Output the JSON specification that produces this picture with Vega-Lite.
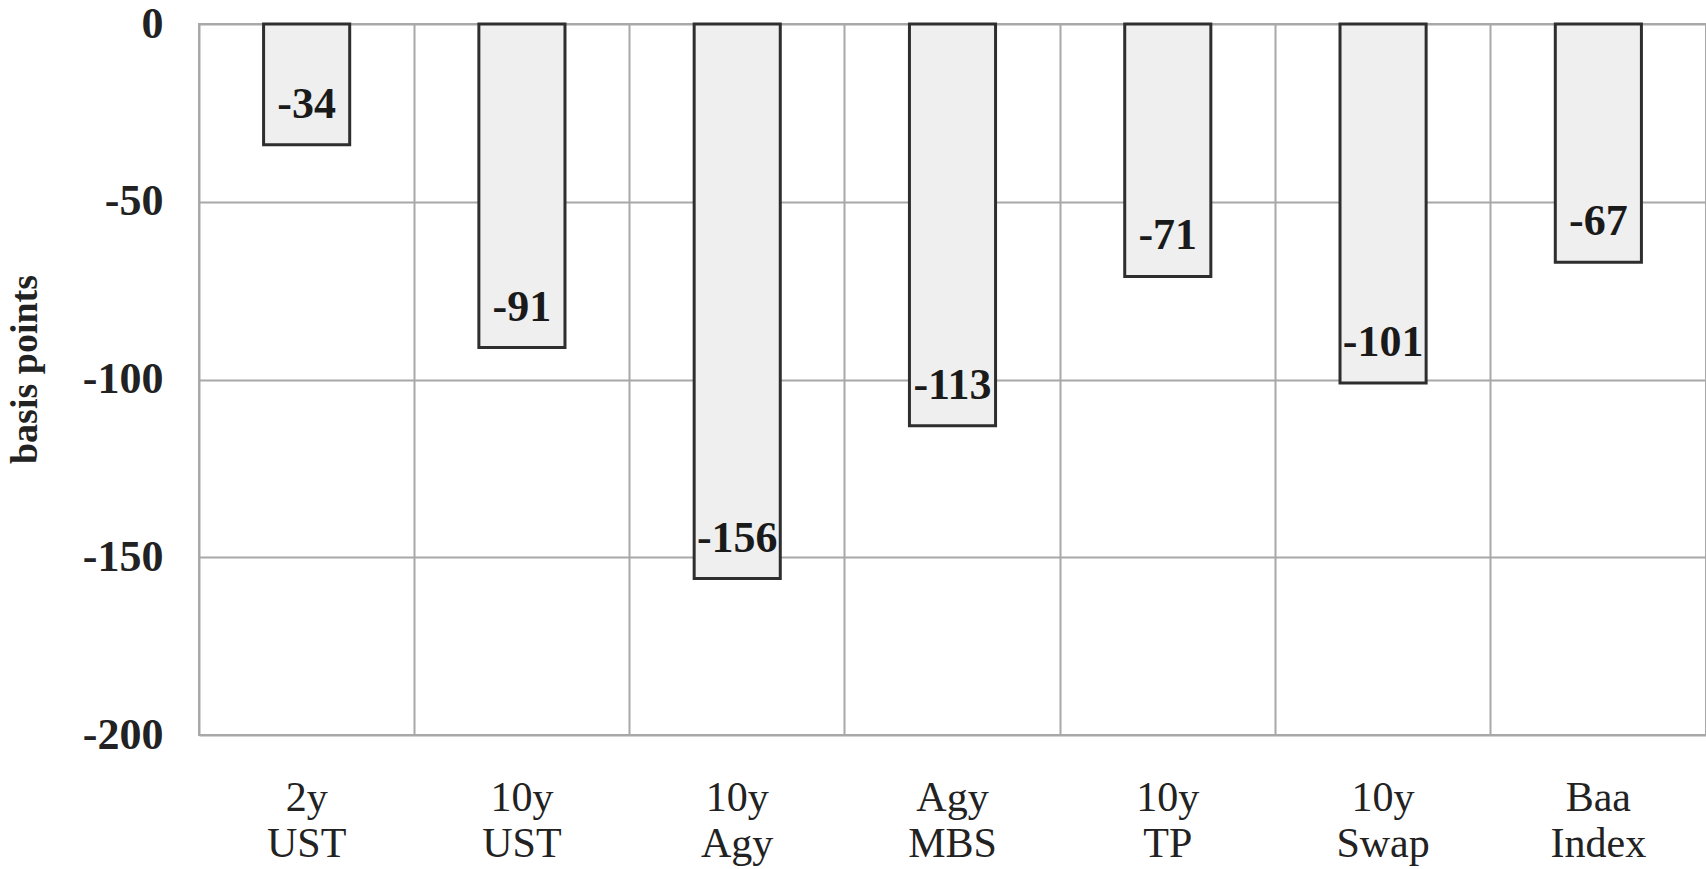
{
  "$schema": "https://vega.github.io/schema/vega-lite/v6.json",
  "autosize": {"type": "none"},
  "width": 1507,
  "height": 711,
  "padding": {"left": 199, "top": 24, "right": 0, "bottom": 134},
  "background": "white",
  "config": {
    "view": {"stroke": "#a8a8a8", "strokeWidth": 2},
    "font": "Liberation Serif"
  },
  "data": {
    "values": [
      {"category": "2y\nUST", "value": -34},
      {"category": "10y\nUST", "value": -91},
      {"category": "10y\nAgy", "value": -156},
      {"category": "Agy\nMBS", "value": -113},
      {"category": "10y\nTP", "value": -71},
      {"category": "10y\nSwap", "value": -101},
      {"category": "Baa\nIndex", "value": -67}
    ]
  },
  "encoding": {
    "x": {
      "field": "category",
      "type": "nominal",
      "sort": null,
      "scale": {"paddingInner": 0, "paddingOuter": 0},
      "axis": {
        "title": null,
        "labelAngle": 0,
        "labelExpr": "split(datum.label, '\\n')",
        "labelFont": "Liberation Serif",
        "labelFontSize": 42,
        "labelLineHeight": 46,
        "labelColor": "#222",
        "labelBaseline": "top",
        "labelPadding": 42,
        "ticks": false,
        "domain": false,
        "grid": true,
        "bandPosition": 0,
        "gridColor": "#a8a8a8",
        "gridWidth": 2,
        "gridOpacity": 1
      }
    },
    "y": {
      "field": "value",
      "type": "quantitative",
      "scale": {"domain": [-200, 0], "nice": false},
      "axis": {
        "title": "basis points",
        "titleFont": "Liberation Serif",
        "titleFontSize": 38,
        "titleFontWeight": "bold",
        "titleColor": "#222",
        "titleX": -174,
        "titleY": 345,
        "titleAngle": -90,
        "titleAlign": "center",
        "titleBaseline": "middle",
        "values": [0, -50, -100, -150, -200],
        "labelExpr": "'' + datum.value",
        "labelFont": "Liberation Serif",
        "labelFontSize": 44,
        "labelFontWeight": "bold",
        "labelColor": "#222",
        "labelPadding": 36,
        "ticks": false,
        "domain": false,
        "grid": true,
        "gridColor": "#a8a8a8",
        "gridWidth": 2,
        "gridOpacity": 1
      }
    }
  },
  "layer": [
    {
      "mark": {
        "type": "bar",
        "width": {"band": 0.4},
        "fill": "#efefef",
        "stroke": "#2e2e2e",
        "strokeWidth": 3
      }
    },
    {
      "mark": {
        "type": "text",
        "font": "Liberation Serif",
        "fontSize": 44,
        "fontWeight": "bold",
        "color": "#1a1a1a",
        "baseline": "alphabetic",
        "align": "center",
        "dy": -27
      },
      "encoding": {
        "text": {"field": "value", "type": "nominal"}
      }
    }
  ]
}
